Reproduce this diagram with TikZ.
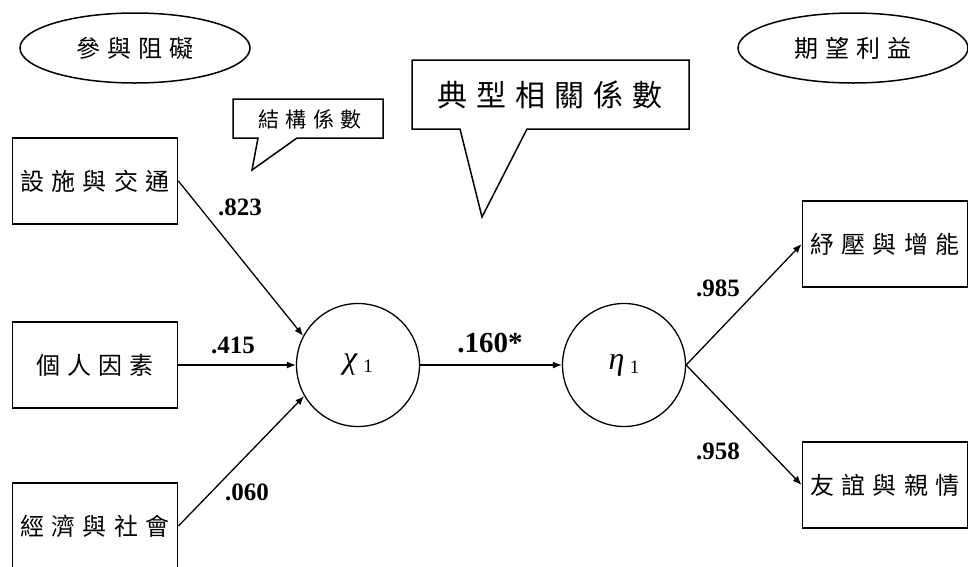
\documentclass[tikz,border=0pt]{standalone}
\usepackage{fontspec}
\setmainfont{Liberation Serif}
\newfontfamily\cjk[LetterSpace=30]{Noto Sans CJK TC}
\usetikzlibrary{arrows.meta,shapes.geometric}

\newcommand{\latentname}[1]{\textit{#1}\,\raisebox{-4pt}{\fontsize{19}{20}\selectfont 1}}

\tikzset{
  box/.style={draw, line width=1.8pt, minimum width=165pt, minimum height=86pt,
    inner sep=0pt, font=\cjk\fontsize{24}{28}\selectfont},
  group/.style={ellipse, draw, line width=1.5pt, minimum width=230pt, minimum height=70pt,
    inner sep=0pt, font=\cjk\fontsize{24}{28}\selectfont},
  latent/.style={circle, draw, line width=1.3pt, minimum size=123pt, inner sep=0pt,
    font=\fontsize{32}{34}\selectfont},
  coef/.style={font=\bfseries\fontsize{25}{30}\selectfont},
  path/.style={line width=1.3pt, -{Latex[length=9pt,width=7pt]}},
  note/.style={line width=1.5pt},
}

\begin{document}
\begin{tikzpicture}[x=1pt, y=-1pt]
  \useasboundingbox (0,0) rectangle (968,566);

  \node[group] (barrier) at (135,48) {參與阻礙};
  \node[group] (benefit) at (853,48) {期望利益};

  \node[box] (facility) at (95,181) {設施與交通};
  \node[box] (personal) at (95,365) {個人因素};
  \node[box] (economy) at (95,526) {經濟與社會};

  \node[latent] (chi) at (358,365) {\latentname{χ}};
  \node[latent] (eta) at (624,365) {\latentname{η}};

  \node[box] (relief) at (885,244) {紓壓與增能};
  \node[box] (friend) at (885,485) {友誼與親情};

  % 說明框
  \draw[note] (412,60) -- (689,60) -- (689,129) -- (527,129) -- (482,217)
    -- (460,129) -- (412,129) -- cycle;
  \node[font=\cjk\fontsize{30}{32}\selectfont] (cancor) at (550,95) {典型相關係數};
  \draw[note] (233,99) -- (383,99) -- (383,138) -- (297,138) -- (252,170)
    -- (258,138) -- (233,138) -- cycle;
  \node[font=\cjk\fontsize{21}{24}\selectfont] (struct) at (310,119) {結構係數};

  \draw[path] (facility.east) -- (chi.152);
  \draw[path] (personal.east) -- (chi.west);
  \draw[path] (economy.east) -- (chi.210);
  \draw[path] (chi) -- (eta);
  \draw[path] (eta.east) -- (relief.west);
  \draw[path] (eta.east) -- (friend.west);

  % 係數
  \node[coef] (w1) at (240,207) {.823};
  \node[coef] (w2) at (233,345) {.415};
  \node[coef] (w3) at (247,492) {.060};
  \node[coef, font=\bfseries\fontsize{29}{32}\selectfont] (r1) at (490,343) {.160*};
  \node[coef] (v1) at (718,288) {.985};
  \node[coef] (v2) at (718,451) {.958};
\end{tikzpicture}
\end{document}
